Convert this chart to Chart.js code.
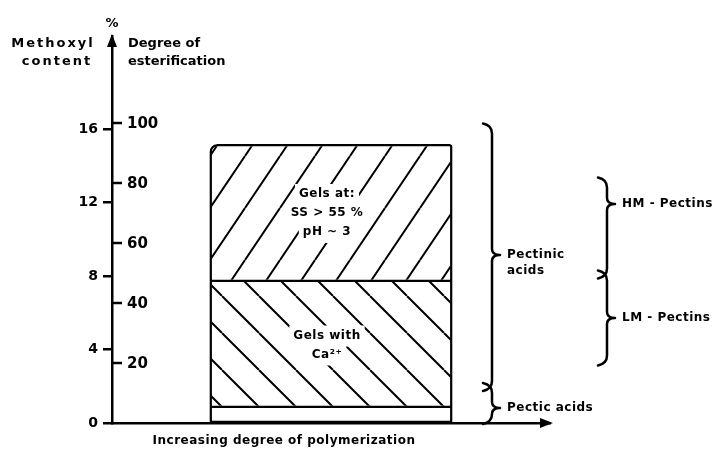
<!DOCTYPE html>
<html><head><meta charset="utf-8">
<script src="https://cdn.jsdelivr.net/npm/chart.js@4/dist/chart.umd.min.js"></script>
<style>html,body{margin:0;padding:0;background:#fff}</style>
</head><body>
<canvas id="c" width="728" height="454"></canvas>
<script>
// ---- data (degree of esterification, % unless noted) ----
const CATEGORIES = ['Pectin'];
const REGION_NAMES = ['Pectic acids', 'Gels with Ca²⁺', 'Gels at: SS > 55 %, pH ~ 3'];
const REGION_FROM = [0, 5, 47];
const REGION_TO = [5, 47, 93];
const REGION_TEXT = [[], ['Gels with', 'Ca²⁺'], ['Gels at:', 'SS > 55 %', 'pH ~ 3']];
const DE_TICKS = [20, 40, 60, 80, 100];
const METHOXYL_TICKS = [0, 4, 8, 12, 16];
const DE_MAX = 129;               // top of the arrowed axis
const METHOXYL_AT_100_DE = 16.32; // methoxyl content % at 100 % esterification
const CLASS_TEXT = [['Pectinic', 'acids'], ['Pectic acids'], ['HM - Pectins'], ['LM - Pectins']];
const CLASS_FROM = [12, 1, 49.5, 20.5];
const CLASS_TO = [98.5, 12, 80.5, 49.5];
const CLASS_TIP = [56, 5, 73, 35];
const CLASS_COLUMN = [0, 0, 1, 1];
const AXIS_TITLE_X = 'Increasing degree of polymerization';
const AXIS_TITLE_LEFT = ['Methoxyl', 'content'];
const AXIS_TITLE_RIGHT = ['Degree of', 'esterification'];

const FONT = '"DejaVu Sans", sans-serif';

function hatch(w, h, dir) {
  const c = document.createElement('canvas');
  c.width = w; c.height = h;
  const g = c.getContext('2d');
  g.fillStyle = '#fff'; g.fillRect(0, 0, w, h);
  g.strokeStyle = '#000'; g.lineWidth = 2; g.lineCap = 'butt';
  g.beginPath();
  for (let k = -1; k <= 1; k++) {
    if (dir > 0) { g.moveTo(k * w, h); g.lineTo(k * w + w, 0); }
    else { g.moveTo(k * w, 0); g.lineTo(k * w + w, h); }
  }
  g.stroke();
  return g.createPattern(c, 'repeat');
}
const FILLS = ['#ffffff', hatch(37, 37, -1), hatch(35, 52, 1)];
const SKIP = ['top', 'top', false];

function brace(ctx, x, yTop, yBot, yTip) {
  const hook = 9, tip = 8;
  ctx.beginPath();
  ctx.moveTo(x - hook, yTop - 4);
  ctx.quadraticCurveTo(x, yTop - 2, x, yTop + 6);
  ctx.lineTo(x, yTip - 6);
  ctx.quadraticCurveTo(x, yTip, x + tip, yTip);
  ctx.quadraticCurveTo(x, yTip, x, yTip + 6);
  ctx.lineTo(x, yBot - 6);
  ctx.quadraticCurveTo(x, yBot + 2, x - hook, yBot + 4);
  ctx.stroke();
}

const deco = {
  id: 'deco',
  afterDraw(chart) {
    const ctx = chart.ctx, ca = chart.chartArea;
    const yDE = chart.scales.yDE;
    ctx.save();
    ctx.fillStyle = '#000'; ctx.strokeStyle = '#000';
    // axis arrows
    ctx.beginPath();
    ctx.moveTo(ca.left, ca.top - 2); ctx.lineTo(ca.left - 5, ca.top + 11); ctx.lineTo(ca.left + 5, ca.top + 11); ctx.closePath(); ctx.fill();
    ctx.beginPath();
    ctx.moveTo(ca.right + 3, ca.bottom); ctx.lineTo(ca.right - 10, ca.bottom - 5); ctx.lineTo(ca.right - 10, ca.bottom + 5); ctx.closePath(); ctx.fill();
    // DE ticks (right side of axis)
    ctx.lineWidth = 2.5;
    ctx.font = 'bold 15px ' + FONT;
    ctx.textAlign = 'left'; ctx.textBaseline = 'middle';
    DE_TICKS.forEach(v => {
      const y = yDE.getPixelForValue(v);
      ctx.beginPath(); ctx.moveTo(ca.left, y); ctx.lineTo(ca.left + 10, y); ctx.stroke();
      ctx.fillText(String(v), ca.left + 15, y + 1);
    });
    // axis titles
    ctx.font = 'bold 13px ' + FONT;
    ctx.textAlign = 'center';
    ctx.fillText('%', ca.left, 24);
    ctx.letterSpacing = '2px';
    ctx.fillText(AXIS_TITLE_LEFT[0], ca.left - 59, 44);
    ctx.fillText(AXIS_TITLE_LEFT[1], ca.left - 55, 62);
    ctx.textAlign = 'left';
    ctx.letterSpacing = '0px';
    ctx.fillText(AXIS_TITLE_RIGHT[0], ca.left + 16, 44);
    ctx.fillText(AXIS_TITLE_RIGHT[1], ca.left + 16, 62);
    ctx.letterSpacing = '0.5px';
    ctx.font = 'bold 12px ' + FONT;
    ctx.textAlign = 'center';
    ctx.fillText(AXIS_TITLE_X, ca.left + 172, 441);
    // region texts
    const meta = chart.getDatasetMeta(0);
    const cx = meta.data[0].x;
    ctx.font = 'bold 12px ' + FONT;
    ctx.letterSpacing = '0.5px';
    REGION_TEXT.forEach((lines, i) => {
      if (!lines.length) return;
      const mid = yDE.getPixelForValue((REGION_FROM[i] + REGION_TO[i]) / 2);
      const lh = 19;
      const y0 = mid - (lines.length - 1) * lh / 2;
      lines.forEach((t, j) => {
        const w = ctx.measureText(t).width;
        ctx.fillStyle = '#fff';
        ctx.fillRect(cx - 4 - w / 2 - 4, y0 + j * lh - 10, w + 8, 21);
      });
      ctx.fillStyle = '#000';
      lines.forEach((t, j) => ctx.fillText(t, cx - 4, y0 + j * lh));
    });
    // braces and classes
    const cols = [ca.right - 58, ca.right + 57];
    ctx.lineWidth = 2.5; ctx.lineCap = 'round'; ctx.lineJoin = 'round';
    ctx.textAlign = 'left';
    CLASS_TEXT.forEach((lines, i) => {
      const x = cols[CLASS_COLUMN[i]];
      const yt = yDE.getPixelForValue(CLASS_TO[i]);
      const yb = yDE.getPixelForValue(CLASS_FROM[i]);
      const yp = yDE.getPixelForValue(CLASS_TIP[i]);
      brace(ctx, x, yt, yb, yp);
      const lh = 16;
      lines.forEach((t, j) => ctx.fillText(t, x + 15, yp + j * lh));
    });
    ctx.restore();
  }
};

new Chart(document.getElementById('c'), {
  type: 'bar',
  data: {
    labels: CATEGORIES,
    datasets: REGION_NAMES.map((name, i) => ({
      label: name,
      data: [[REGION_FROM[i], REGION_TO[i]]],
      backgroundColor: FILLS[i],
      borderColor: '#000',
      borderWidth: 2.5,
      borderSkipped: SKIP[i],
      borderRadius: i === 2 ? { topLeft: 8, topRight: 3, bottomLeft: 0, bottomRight: 0 } : 0,
      barPercentage: 0.555,
      categoryPercentage: 1,
      grouped: false,
      yAxisID: 'yDE',
      order: 3 - i
    }))
  },
  options: {
    responsive: false,
    animation: false,
    devicePixelRatio: 1,
    layout: { padding: { top: 36, right: 178, left: 0, bottom: 0 } },
    plugins: { legend: { display: false }, tooltip: { enabled: false }, title: { display: false } },
    scales: {
      x: {
        type: 'category',
        grid: { display: false, drawTicks: false },
        border: { display: true, color: '#000', width: 2.5 },
        ticks: { display: false },
        afterFit: s => { s.height = 31; }
      },
      yM: {
        position: 'left',
        min: 0,
        max: DE_MAX * METHOXYL_AT_100_DE / 100,
        afterBuildTicks: s => { s.ticks = METHOXYL_TICKS.map(v => ({ value: v })); },
        ticks: { color: '#000', font: { family: FONT, weight: 'bold', size: 14 }, padding: 5 },
        grid: { drawOnChartArea: false, tickLength: 9, lineWidth: 2.5, color: '#000' },
        border: { color: '#000', width: 2.5 },
        afterFit: s => { s.width = 112; }
      },
      yDE: { display: false, min: 0, max: DE_MAX }
    }
  },
  plugins: [deco]
});
</script>
</body></html>
